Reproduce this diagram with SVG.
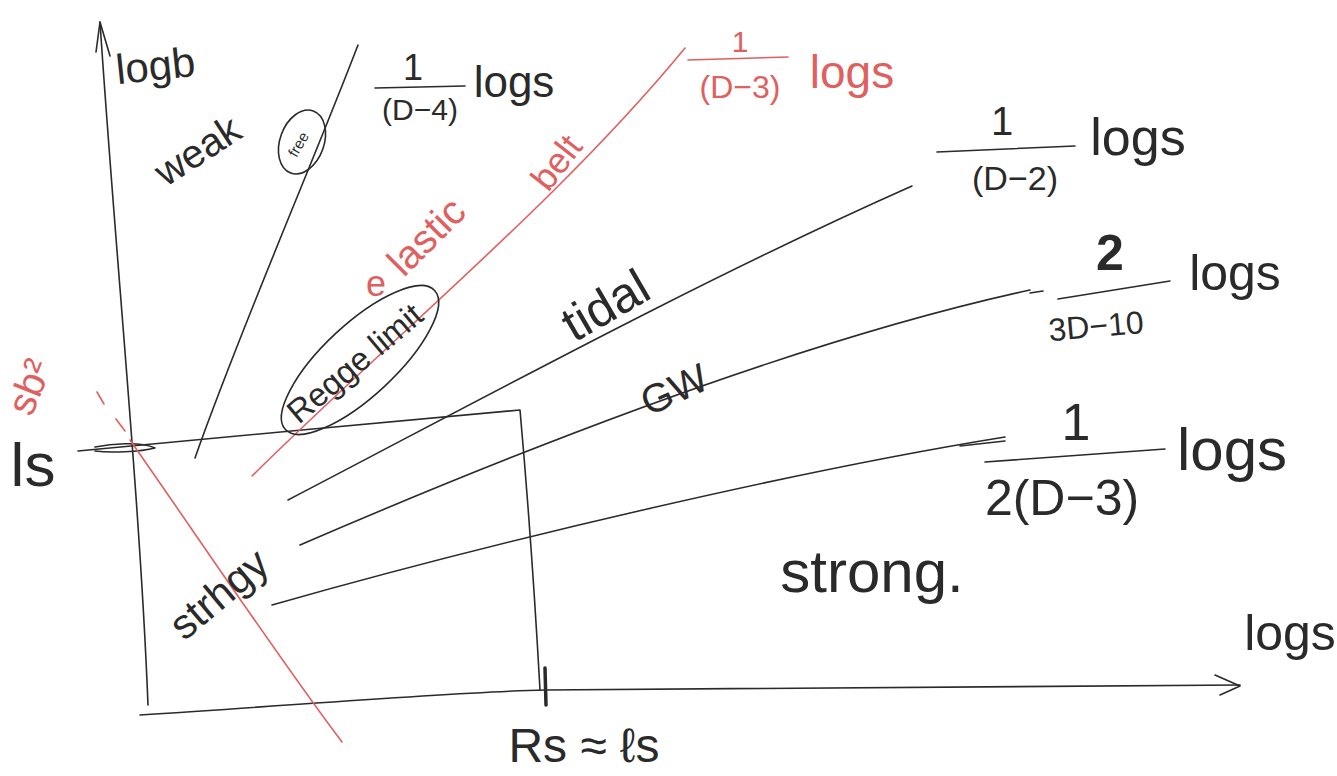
<svg xmlns="http://www.w3.org/2000/svg" width="1337" height="776" viewBox="0 0 1337 776">
<style>
.k{fill:none;stroke:#2a2a2a;stroke-width:1.6;stroke-linecap:round;stroke-linejoin:round}
.r{fill:none;stroke:#e06060;stroke-width:1.6;stroke-linecap:round;stroke-linejoin:round}
.t{font-family:"Liberation Sans","DejaVu Sans",sans-serif;fill:#2a2a2a;font-weight:normal}
.tr{font-family:"Liberation Sans","DejaVu Sans",sans-serif;fill:#e06060}
</style>
<rect width="1337" height="776" fill="#ffffff"/>
<g id="connectors">
  <path class="k" d="M148,705 C140,500 115,250 100,22"/>
  <path class="k" d="M96,52 L100,22 L110,56"/>
  <path class="k" d="M140,715 C300,705 450,692 545,690 C800,688 1050,686 1240,685"/>
  <path class="k" d="M1215,675 L1240,686 L1220,695"/>
  <path class="k" d="M545,668 L546,705" style="stroke-width:3.5"/>
  <path class="k" d="M78,451 C200,440 400,420 520,410 C528,500 535,600 540,690"/>
  <path class="k" d="M95,447 C110,444 140,441 155,448 C140,452 110,453 95,451"/>
  <path class="k" d="M195,458 C240,330 310,170 358,45"/>
  <path class="r" d="M252,476 C400,330 560,200 685,48"/>
  <path class="k" d="M288,500 C480,400 700,280 912,186"/>
  <path class="k" d="M300,545 C520,450 800,340 1030,290"/>
  <path class="k" d="M272,605 C500,540 800,470 1005,437"/>
  <path class="r" d="M97,392 L104,404"/>
  <path class="r" d="M116,419 L125,431"/>
  <path class="r" d="M130,440 C200,540 280,660 342,742"/>
</g>
<g id="axis-labels">
  <text class="t" x="157" y="80" font-size="42" text-anchor="middle" transform="rotate(-6 157 80)">logb</text>
  <text class="t" x="33" y="486" font-size="62" text-anchor="middle">ls</text>
  <text class="tr" x="42" y="392" font-size="40" text-anchor="middle" transform="rotate(-68 42 392)">sb²</text>
  <text class="t" x="1290" y="650" font-size="50" text-anchor="middle">logs</text>
  <text class="t" x="584" y="762" font-size="48" text-anchor="middle">Rs ≈ ℓs</text>
</g>
<g id="weak">
  <text class="t" x="205" y="162" font-size="40" text-anchor="middle" transform="rotate(-33 205 162)">weak</text>
</g>
<g id="free">
  <ellipse class="k" cx="302" cy="142" rx="22" ry="33" transform="rotate(20 302 142)"/>
  <text class="t" x="303" y="147" font-size="15" text-anchor="middle" transform="rotate(-60 303 147)">free</text>
</g>
<g id="label-D4">
  <text class="t" x="413" y="80" font-size="36" text-anchor="middle">1</text>
  <path class="k" d="M375,88 L465,86"/>
  <text class="t" x="420" y="120" font-size="30" text-anchor="middle">(D−4)</text>
  <text class="t" x="514" y="97" font-size="44" text-anchor="middle">logs</text>
</g>
<g id="label-D3-red">
  <text class="tr" x="740" y="52" font-size="30" text-anchor="middle">1</text>
  <path class="r" d="M688,60 L788,57"/>
  <text class="tr" x="740" y="98" font-size="32" text-anchor="middle">(D−3)</text>
  <text class="tr" x="852" y="88" font-size="46" text-anchor="middle">logs</text>
</g>
<g id="elastic-belt">
  <text class="tr" x="376" y="296" font-size="36" text-anchor="middle">e</text>
  <text class="tr" x="436" y="246" font-size="40" text-anchor="middle" transform="rotate(-45 436 246)">lastic</text>
  <text class="tr" x="566" y="170" font-size="36" text-anchor="middle" transform="rotate(-52 566 170)">belt</text>
</g>
<g id="regge">
  <ellipse class="k" cx="360" cy="360" rx="102" ry="36" transform="rotate(-43 360 360)"/>
  <text class="t" x="362" y="372" font-size="33" text-anchor="middle" transform="rotate(-40 362 372)">Regge limit</text>
</g>
<g id="label-D2">
  <text class="t" x="1002" y="135" font-size="40" text-anchor="middle">1</text>
  <path class="k" d="M937,152 L1075,146"/>
  <text class="t" x="1015" y="190" font-size="34" text-anchor="middle">(D−2)</text>
  <text class="t" x="1138" y="155" font-size="52" text-anchor="middle">logs</text>
</g>
<g id="tidal">
  <text class="t" x="614" y="320" font-size="50" text-anchor="middle" transform="rotate(-30 614 320)">tidal</text>
</g>
<g id="label-3D10">
  <text class="t" x="1110" y="270" font-size="50" text-anchor="middle" style="font-weight:bold">2</text>
  <path class="k" d="M1030,293 L1043,291"/>
  <path class="k" d="M1058,299 L1170,281"/>
  <text class="t" x="1097" y="337" font-size="32" text-anchor="middle" transform="rotate(-5 1097 337)">3D−10</text>
  <text class="t" x="1235" y="290" font-size="50" text-anchor="middle">logs</text>
</g>
<g id="gw">
  <text class="t" x="680" y="402" font-size="40" text-anchor="middle" transform="rotate(-25 680 402)">GW</text>
</g>
<g id="label-2D3">
  <text class="t" x="1076" y="440" font-size="52" text-anchor="middle">1</text>
  <path class="k" d="M960,446 L1005,441"/>
  <path class="k" d="M985,462 L1165,449"/>
  <text class="t" x="1062" y="515" font-size="50" text-anchor="middle">2(D−3)</text>
  <text class="t" x="1232" y="470" font-size="60" text-anchor="middle">logs</text>
</g>
<g id="strong">
  <text class="t" x="872" y="592" font-size="60" text-anchor="middle">strong.</text>
</g>
<g id="stringy">
  <text class="t" x="228" y="605" font-size="42" text-anchor="middle" transform="rotate(-40 228 605)">strhgy</text>
</g>
</svg>
